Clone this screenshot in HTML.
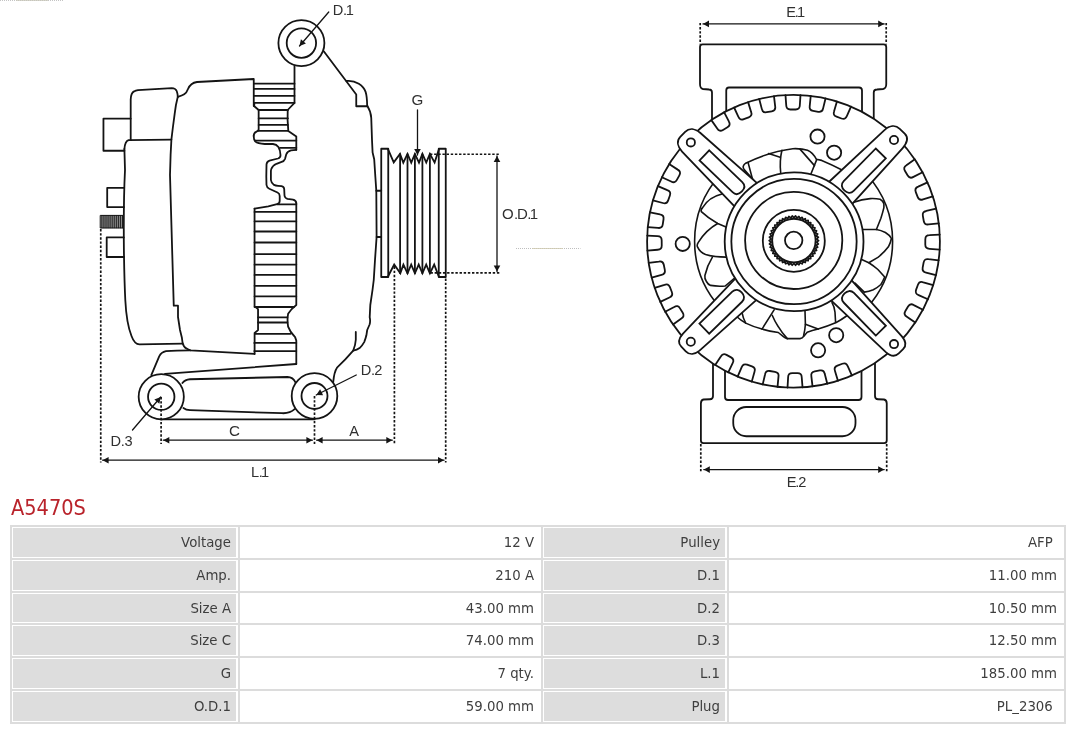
<!DOCTYPE html>
<html lang="en">
<head>
<meta charset="utf-8">
<title>A5470S</title>
<style>
html,body{margin:0;padding:0;background:#fff;}
body{width:1080px;height:729px;position:relative;overflow:hidden;font-family:"DejaVu Sans","Liberation Sans",sans-serif;}
#drawing{position:absolute;left:0;top:0;width:1080px;height:500px;will-change:transform;}
#drawing text{font-family:"Liberation Sans","DejaVu Sans",sans-serif;}
h1{position:absolute;left:11px;top:495px;margin:0;font-weight:normal;font-family:"DejaVu Sans","Liberation Sans",sans-serif;font-size:20.5px;line-height:26px;color:#b9232b;white-space:nowrap;transform:scaleX(0.945);transform-origin:0 0;}
#tbl{position:absolute;left:10px;top:525px;width:1054px;height:199px;border-collapse:collapse;table-layout:fixed;border-spacing:0;margin:0;padding:0;will-change:transform;font-size:13.3px;color:#3e3e3e;}
#tbl th,#tbl td{border:2px solid #dcdcdc;box-sizing:border-box;margin:0;padding:0 7px 0 0;text-align:right;vertical-align:middle;font-weight:normal;white-space:nowrap;line-height:16px;background:#fff;}
#tbl tr.r3 th,#tbl tr.r3 td{padding-top:2px;}
#tbl th{background:#dddddd;padding-right:7px;box-shadow:inset 1px 1px 0 #fff,inset -2px -1px 0 #fff;}
</style>
</head>
<body>
<svg id="drawing" role="img" aria-label="Alternator A5470S dimension drawing" width="1080" height="500" viewBox="0 0 1080 500" stroke-linecap="round" stroke-linejoin="round">
<path d="M130.7,118.6 H103.45 V150.75 H124.4" fill="none" stroke="#141414" stroke-width="1.8" />
<path d="M130.7,140 V99.5 Q130.9,93.2 134,91.4 Q135.6,90.4 138,90.1 L171.8,88.2 Q175.5,88.3 176.7,91 Q177.6,93.5 177.8,96.8" fill="none" stroke="#141414" stroke-width="1.8" />
<path d="M124.4,149 Q125,141.2 128.6,140.2 L171.4,139.6" fill="none" stroke="#141414" stroke-width="1.8" />
<path d="M124.4,149 L125,170 C124,190 123.7,230 123.9,250 C124.2,270 124.8,290 125.3,300 C126.2,318 128.3,328 131.5,336 Q134.5,344.3 139.5,344.4 L182.6,343.6" fill="none" stroke="#141414" stroke-width="1.8" />
<path d="M177.8,96.8 C176.4,102 175,111 174.7,113.6 L172.8,128 L171.4,139.6 L170.6,155 L170,175 L173.75,305.7 H178 L178,317 L180,330 L181.9,337.8 L182.6,343 Q183.6,347.2 186.6,348.6 Q188.5,349.8 190.4,350.3 L254.5,353.8" fill="none" stroke="#141414" stroke-width="1.8" />
<path d="M177.8,96.8 C183,95.3 186.3,94 188,89 Q190.5,83 197,82 L253.75,79 V106" fill="none" stroke="#141414" stroke-width="1.8" />
<path d="M294.5,65 V102.9 L287.7,110" fill="none" stroke="#141414" stroke-width="1.8" />
<line x1="254.3" y1="83.7" x2="294.5" y2="83.7" stroke="#141414" stroke-width="1.8" />
<line x1="254.3" y1="88.9" x2="294.5" y2="88.9" stroke="#141414" stroke-width="1.8" />
<line x1="254.3" y1="95.8" x2="294.5" y2="95.8" stroke="#141414" stroke-width="1.8" />
<line x1="254.3" y1="102.9" x2="294.5" y2="102.9" stroke="#141414" stroke-width="1.8" />
<path d="M254.3,102.9 V106.2 L258.65,110 V129.5 Q258.3,131 256.5,131.6 Q253.9,132.7 253.7,135.8" fill="none" stroke="#141414" stroke-width="1.8" />
<path d="M287.7,110 Q287.2,120 288.3,130.9 L296.3,136.4 V149.8" fill="none" stroke="#141414" stroke-width="1.8" />
<line x1="258.65" y1="110" x2="287.9" y2="110" stroke="#141414" stroke-width="1.8" />
<line x1="258.65" y1="118.3" x2="287.9" y2="118.3" stroke="#141414" stroke-width="1.8" />
<line x1="258.65" y1="124.9" x2="287.9" y2="124.9" stroke="#141414" stroke-width="1.8" />
<line x1="258.65" y1="130.9" x2="287.9" y2="130.9" stroke="#141414" stroke-width="1.8" />
<line x1="254.9" y1="140.7" x2="296.3" y2="140.7" stroke="#141414" stroke-width="1.8" />
<line x1="280" y1="147.8" x2="296.3" y2="147.8" stroke="#141414" stroke-width="1.8" />
<path d="M253.7,135.8 Q253.6,139.5 255.5,141.6 Q257.5,143.4 264.8,144 L273,144 Q276.5,144.4 278.4,147 Q280.3,150 280.5,155 Q280.6,157.6 278,158.5 L269.5,160.6 Q266.7,161.5 266.5,164.5 L266.3,176.6 L266.5,185 Q266.8,187.6 269.3,188.7 L277.5,192.5 Q279.7,193.6 279.7,196 L279.7,201 Q279.6,203.6 277,204.2 L268.3,206.3 L254.55,208.6" fill="none" stroke="#141414" stroke-width="1.8" />
<path d="M296.3,149.8 L291,150.3 Q287.3,151.3 286.2,154.5 L285,159 Q284.3,161.2 281,162.2 L276.5,163.8 Q272.5,165.6 271.3,169 Q270.8,170.5 270.9,172 L270.9,180 Q271.3,183.3 274,184.9 Q275.5,185.6 278,185.8 L281.5,186.1 Q284,186.6 284.2,189 L284.5,195.5 Q284.8,198 287.5,198.9 L293,199.7 Q296,200.4 296.3,203" fill="none" stroke="#141414" stroke-width="1.8" />
<path d="M254.55,208.6 V306.2 L258.05,309.1 V330.1 L254.6,333 V354" fill="none" stroke="#141414" stroke-width="1.8" />
<path d="M296.3,203 V305 Q291.5,308.5 288.1,313.8 Q287,319.5 288.1,326.6 Q290,332 295.1,337.1 L296.3,340.6 V364" fill="none" stroke="#141414" stroke-width="1.8" />
<line x1="277.6" y1="204.4" x2="296.3" y2="204.4" stroke="#141414" stroke-width="1.8" />
<line x1="254.55" y1="211.9" x2="296.3" y2="211.9" stroke="#141414" stroke-width="1.8" />
<line x1="254.55" y1="221.3" x2="296.3" y2="221.3" stroke="#141414" stroke-width="1.8" />
<line x1="254.55" y1="231.5" x2="296.3" y2="231.5" stroke="#141414" stroke-width="1.8" />
<line x1="254.55" y1="242.5" x2="296.3" y2="242.5" stroke="#141414" stroke-width="1.8" />
<line x1="254.55" y1="254.2" x2="296.3" y2="254.2" stroke="#141414" stroke-width="1.8" />
<line x1="254.55" y1="264.7" x2="296.3" y2="264.7" stroke="#141414" stroke-width="1.8" />
<line x1="254.55" y1="274.9" x2="296.3" y2="274.9" stroke="#141414" stroke-width="1.8" />
<line x1="254.55" y1="285.8" x2="296.3" y2="285.8" stroke="#141414" stroke-width="1.8" />
<line x1="254.55" y1="296.3" x2="296.3" y2="296.3" stroke="#141414" stroke-width="1.8" />
<line x1="254.55" y1="307" x2="294" y2="307" stroke="#141414" stroke-width="1.8" />
<line x1="258.05" y1="317.3" x2="287.4" y2="317.3" stroke="#141414" stroke-width="1.8" />
<line x1="258.05" y1="322.5" x2="287.4" y2="322.5" stroke="#141414" stroke-width="1.8" />
<line x1="254.9" y1="333.8" x2="290.5" y2="333.8" stroke="#141414" stroke-width="1.8" />
<line x1="254.3" y1="342.9" x2="296.3" y2="342.9" stroke="#141414" stroke-width="1.8" />
<line x1="254.3" y1="351.1" x2="296.3" y2="351.1" stroke="#141414" stroke-width="1.8" />
<path d="M151.3,375.2 L159.2,356.3 Q161.3,352.2 166,351.2 Q176,350.3 190.4,350.3" fill="none" stroke="#141414" stroke-width="1.8" />
<path d="M165,373.9 L296.3,364" fill="none" stroke="#141414" stroke-width="1.8" />
<line x1="161.25" y1="419.4" x2="314.5" y2="419.4" stroke="#141414" stroke-width="1.8" />
<path d="M182.4,383 Q185,379.6 190,379.25 L287.5,377 Q293,377 295.6,382.6" fill="none" stroke="#141414" stroke-width="1.8" />
<path d="M183.4,408 Q186,410 190,410.2 L282,413.2 Q290,413.6 294.6,409.2" fill="none" stroke="#141414" stroke-width="1.8" />
<circle cx="161.25" cy="396.75" r="22.6" fill="#fff" stroke="#141414" stroke-width="1.8"/>
<circle cx="161.25" cy="396.75" r="13.2" fill="none" stroke="#141414" stroke-width="1.8"/>
<circle cx="314.5" cy="396" r="22.8" fill="#fff" stroke="#141414" stroke-width="1.8"/>
<circle cx="314.5" cy="396" r="13" fill="none" stroke="#141414" stroke-width="1.8"/>
<circle cx="301.4" cy="43.1" r="23.0" fill="#fff" stroke="#141414" stroke-width="1.8"/>
<circle cx="301.4" cy="43.1" r="14.7" fill="none" stroke="#141414" stroke-width="1.8"/>
<path d="M323.75,51.25 L356.25,94.5 V106.25 H367.5" fill="none" stroke="#141414" stroke-width="1.8" />
<path d="M346.4,81 C356,80 363.5,86 365.6,91.9 C366.8,95.5 367.1,100 367.2,106.3" fill="none" stroke="#141414" stroke-width="1.8" />
<path d="M367.5,106.25 C370,110 371,114 371.25,118 L372,140 L372.6,152.5 L374.2,159.2 L375.4,177.5 L376.3,190.75 L376.6,237 L375,260 L373.75,280 L372.5,290 L370.3,305 L369.7,317.2 Q370.6,321 369.6,324.5 L367.2,330 L366.4,335.3 Q365.5,339 364.2,342.1 Q362,346 359.6,348.1 Q357,350 353.2,350.6 C349,355.5 343,362 337,367.7 C335,370.5 333.8,376 333.2,382.1" fill="none" stroke="#141414" stroke-width="1.8" stroke-linejoin="round"/>
<path d="M355.8,332 L355.8,339.8 Q355.5,345 353.2,350.6" fill="none" stroke="#141414" stroke-width="1.8" />
<line x1="376.3" y1="190.75" x2="381.25" y2="190.75" stroke="#141414" stroke-width="1.8" />
<line x1="376.6" y1="237" x2="381.25" y2="237" stroke="#141414" stroke-width="1.8" />
<rect x="381.25" y="148.75" width="7" height="128.25" fill="none" stroke="#141414" stroke-width="1.8"/>
<rect x="438.75" y="148.75" width="7" height="128.25" fill="none" stroke="#141414" stroke-width="1.8"/>
<path d="M388.1,149.4 L393.75,162.4 L400,153.9 L403.3,162.6 L407.5,153.9 L411.25,162.6 L414.9,153.9 L419,162.6 L422.4,153.9 L426.25,162.6 L429.9,153.9 L434.6,162.6 L438.9,149.4" fill="none" stroke="#141414" stroke-width="1.8" stroke-linejoin="miter"/>
<path d="M388.25,276 L394.2,264.6 L400.3,273.3 L403.4,264.6 L407.5,273.3 L411.2,264.6 L414.9,273.3 L418.7,264.6 L422.4,273.3 L426.2,264.6 L429.9,273.3 L434.2,264.6 L438.6,276" fill="none" stroke="#141414" stroke-width="1.8" stroke-linejoin="miter"/>
<line x1="400.1" y1="154.2" x2="400.1" y2="273.2" stroke="#141414" stroke-width="1.8" />
<line x1="407.5" y1="154.2" x2="407.5" y2="273.2" stroke="#141414" stroke-width="1.8" />
<line x1="414.9" y1="154.2" x2="414.9" y2="273.2" stroke="#141414" stroke-width="1.8" />
<line x1="422.4" y1="154.2" x2="422.4" y2="273.2" stroke="#141414" stroke-width="1.8" />
<line x1="429.9" y1="154.2" x2="429.9" y2="273.2" stroke="#141414" stroke-width="1.8" />
<path d="M124.2,187.8 H107.2 V207.1 H124" fill="none" stroke="#141414" stroke-width="1.8" />
<path d="M123.8,237.4 H106.7 V257 H124" fill="none" stroke="#141414" stroke-width="1.8" />
<rect x="100.6" y="215.4" width="22.8" height="12.6" fill="#9a9a9a" stroke="#141414" stroke-width="1"/>
<line x1="101.90" y1="215.6" x2="101.90" y2="227.8" stroke="#111" stroke-width="1.0"/>
<line x1="103.95" y1="215.6" x2="103.95" y2="227.8" stroke="#111" stroke-width="1.0"/>
<line x1="106.00" y1="215.6" x2="106.00" y2="227.8" stroke="#111" stroke-width="1.0"/>
<line x1="108.05" y1="215.6" x2="108.05" y2="227.8" stroke="#111" stroke-width="1.0"/>
<line x1="110.10" y1="215.6" x2="110.10" y2="227.8" stroke="#111" stroke-width="1.0"/>
<line x1="112.15" y1="215.6" x2="112.15" y2="227.8" stroke="#111" stroke-width="1.0"/>
<line x1="114.20" y1="215.6" x2="114.20" y2="227.8" stroke="#111" stroke-width="1.0"/>
<line x1="116.25" y1="215.6" x2="116.25" y2="227.8" stroke="#111" stroke-width="1.0"/>
<line x1="118.30" y1="215.6" x2="118.30" y2="227.8" stroke="#111" stroke-width="1.0"/>
<line x1="120.35" y1="215.6" x2="120.35" y2="227.8" stroke="#111" stroke-width="1.0"/>
<line x1="122.40" y1="215.6" x2="122.40" y2="227.8" stroke="#111" stroke-width="1.0"/>
<line x1="100.75" y1="229" x2="100.75" y2="462.5" stroke="#141414" stroke-width="1.7" stroke-dasharray="2.4 1.75" stroke-linecap="butt"/>
<line x1="161.1" y1="397" x2="161.1" y2="444" stroke="#141414" stroke-width="1.7" stroke-dasharray="2.4 1.75" stroke-linecap="butt"/>
<line x1="314.5" y1="396" x2="314.5" y2="445" stroke="#141414" stroke-width="1.7" stroke-dasharray="2.4 1.75" stroke-linecap="butt"/>
<line x1="394.4" y1="266.5" x2="394.4" y2="445" stroke="#141414" stroke-width="1.7" stroke-dasharray="2.4 1.75" stroke-linecap="butt"/>
<line x1="445.7" y1="278.5" x2="445.7" y2="462.5" stroke="#141414" stroke-width="1.7" stroke-dasharray="2.4 1.75" stroke-linecap="butt"/>
<line x1="430" y1="154.25" x2="499" y2="154.25" stroke="#141414" stroke-width="1.7" stroke-dasharray="2.4 1.75" stroke-linecap="butt"/>
<line x1="430.5" y1="272.9" x2="501" y2="272.9" stroke="#141414" stroke-width="1.7" stroke-dasharray="2.4 1.75" stroke-linecap="butt"/>
<line x1="163.3" y1="440.2" x2="312.4" y2="440.2" stroke="#141414" stroke-width="1.3" />
<polygon points="312.40,440.20 306.40,443.50 306.40,436.90" fill="#141414"/>
<polygon points="163.30,440.20 169.30,436.90 169.30,443.50" fill="#141414"/>
<line x1="316.6" y1="440.2" x2="392.3" y2="440.2" stroke="#141414" stroke-width="1.3" />
<polygon points="392.30,440.20 386.30,443.50 386.30,436.90" fill="#141414"/>
<polygon points="316.60,440.20 322.60,436.90 322.60,443.50" fill="#141414"/>
<line x1="102.6" y1="460.2" x2="444" y2="460.2" stroke="#141414" stroke-width="1.3" />
<polygon points="444.00,460.20 438.00,463.50 438.00,456.90" fill="#141414"/>
<polygon points="102.60,460.20 108.60,456.90 108.60,463.50" fill="#141414"/>
<line x1="497" y1="156" x2="497" y2="271.5" stroke="#141414" stroke-width="1.3" />
<polygon points="497.00,271.50 493.70,265.50 500.30,265.50" fill="#141414"/>
<polygon points="497.00,156.00 500.30,162.00 493.70,162.00" fill="#141414"/>
<line x1="417.5" y1="110" x2="417.5" y2="155" stroke="#141414" stroke-width="1.3" />
<polygon points="417.50,155.00 414.20,149.00 420.80,149.00" fill="#141414"/>
<line x1="328.75" y1="12" x2="299.5" y2="46" stroke="#141414" stroke-width="1.3" />
<polygon points="299.50,46.00 300.91,39.30 305.91,43.60" fill="#141414"/>
<line x1="356.25" y1="375" x2="316.25" y2="395" stroke="#141414" stroke-width="1.3" />
<polygon points="316.25,395.00 320.14,389.37 323.09,395.27" fill="#141414"/>
<line x1="132.5" y1="430" x2="160.75" y2="397" stroke="#141414" stroke-width="1.3" />
<polygon points="160.75,397.00 159.35,403.70 154.34,399.41" fill="#141414"/>
<text x="332.70 342.90 345.70" y="15.0" font-size="14.6" fill="#303030" >D.1</text>
<text x="411.60" y="104.5" font-size="15.2" fill="#303030" >G</text>
<text x="502.00 514.00 517.10 527.30 529.80" y="218.7" font-size="15" fill="#303030" >O.D.1</text>
<text x="360.70 370.90 374.30" y="374.7" font-size="14.6" fill="#303030" >D.2</text>
<text x="110.50 120.70 124.45" y="446.4" font-size="14.6" fill="#303030" >D.3</text>
<text x="228.90" y="435.7" font-size="15.2" fill="#303030" >C</text>
<text x="349.20" y="435.5" font-size="14.6" fill="#303030" >A</text>
<text x="251.00 258.70 261.10" y="477.0" font-size="14.6" fill="#303030" >L.1</text>
<path d="M712,121 V92.5 Q712,89.5 709,89.5 L703,89 Q700,88.5 700,84 V47 Q700,44.4 702.6,44.4 H883.6 Q886.25,44.4 886.25,47 V84 Q886.25,88.5 883,89 L877,89.5 Q873.75,89.5 873.75,92.5 V120" fill="none" stroke="#141414" stroke-width="1.8" />
<path d="M726.25,112 V90.5 Q726.25,87.5 729,87.5 H859 Q862,87.5 862,90.5 V112" fill="none" stroke="#141414" stroke-width="1.8" />
<path d="M713,362 V396 Q713,399.25 710,399.25 L703.5,399.5 Q700.9,400 700.9,403.5 V440.6 Q700.9,443.2 703.5,443.2 H884.1 Q886.75,443.2 886.75,440.6 V403.5 Q886.75,400 884,399.5 L878,399.25 Q875,399.25 875,396 V362" fill="none" stroke="#141414" stroke-width="1.8" />
<path d="M725,370 V397 Q725,400 728,400 H858.5 Q861.5,400 861.5,397 V370" fill="none" stroke="#141414" stroke-width="1.8" />
<rect x="733.25" y="407" width="122.25" height="29.25" rx="13" fill="none" stroke="#141414" stroke-width="1.8"/>
<circle cx="793.5" cy="241.3" r="146.4" fill="#fff" stroke="#141414" stroke-width="1.8"/>
<path d="M711.35,120.13 L717.23,128.49 Q719.41,132.09 723.00,129.91 L727.45,127.22 Q731.04,125.04 728.86,121.45 L724.18,112.36" fill="none" stroke="#141414" stroke-width="1.8" />
<path d="M734.10,107.50 L738.41,116.77 Q739.92,120.69 743.84,119.19 L748.69,117.32 Q752.62,115.82 751.11,111.90 L748.11,102.12" fill="none" stroke="#141414" stroke-width="1.8" />
<path d="M759.23,98.97 L761.80,108.87 Q762.57,113.00 766.70,112.23 L771.81,111.27 Q775.94,110.50 775.17,106.37 L773.98,96.22" fill="none" stroke="#141414" stroke-width="1.8" />
<path d="M785.49,95.13 L786.23,105.32 Q786.24,109.52 790.44,109.51 L795.64,109.49 Q799.84,109.48 799.83,105.28 L800.49,95.07" fill="none" stroke="#141414" stroke-width="1.8" />
<path d="M810.74,95.93 L809.71,106.10 Q809.00,110.24 813.14,110.95 L818.27,111.82 Q822.41,112.53 823.12,108.39 L825.53,98.45" fill="none" stroke="#141414" stroke-width="1.8" />
<path d="M836.94,101.50 L834.08,111.32 Q832.63,115.26 836.57,116.71 L841.45,118.50 Q845.39,119.95 846.84,116.01 L851.02,106.68" fill="none" stroke="#141414" stroke-width="1.8" />
<path d="M914.81,159.36 L906.44,165.23 Q902.84,167.40 905.01,170.99 L907.70,175.45 Q909.87,179.04 913.46,176.87 L922.56,172.20" fill="none" stroke="#141414" stroke-width="1.8" />
<path d="M927.51,182.37 L918.22,186.65 Q914.30,188.14 915.79,192.07 L917.63,196.93 Q919.12,200.85 923.05,199.36 L932.83,196.39" fill="none" stroke="#141414" stroke-width="1.8" />
<path d="M936.18,208.53 L926.25,210.99 Q922.12,211.72 922.85,215.85 L923.75,220.97 Q924.48,225.11 928.61,224.38 L938.78,223.30" fill="none" stroke="#141414" stroke-width="1.8" />
<path d="M939.74,234.57 L929.53,235.21 Q925.33,235.19 925.31,239.39 L925.28,244.59 Q925.26,248.79 929.46,248.81 L939.66,249.57" fill="none" stroke="#141414" stroke-width="1.8" />
<path d="M938.65,260.32 L928.49,259.16 Q924.36,258.40 923.60,262.54 L922.67,267.65 Q921.91,271.78 926.04,272.54 L935.94,275.07" fill="none" stroke="#141414" stroke-width="1.8" />
<path d="M933.14,285.23 L923.34,282.33 Q919.40,280.87 917.94,284.80 L916.13,289.68 Q914.66,293.62 918.60,295.08 L927.92,299.29" fill="none" stroke="#141414" stroke-width="1.8" />
<path d="M922.92,309.72 L913.80,305.10 Q910.19,302.95 908.04,306.55 L905.38,311.02 Q903.23,314.63 906.84,316.78 L915.24,322.60" fill="none" stroke="#141414" stroke-width="1.8" />
<path d="M728.26,372.35 L732.66,363.12 Q734.72,359.46 731.06,357.40 L726.53,354.85 Q722.87,352.79 720.81,356.45 L715.20,364.99" fill="none" stroke="#141414" stroke-width="1.8" />
<path d="M751.77,381.62 L754.51,371.77 Q755.91,367.81 751.96,366.41 L747.05,364.67 Q743.09,363.27 741.69,367.23 L737.63,376.61" fill="none" stroke="#141414" stroke-width="1.8" />
<path d="M777.53,386.82 L778.47,376.64 Q779.14,372.49 774.99,371.82 L769.86,370.99 Q765.72,370.32 765.04,374.46 L762.72,384.42" fill="none" stroke="#141414" stroke-width="1.8" />
<path d="M802.53,387.41 L801.72,377.22 Q801.68,373.02 797.48,373.07 L792.28,373.12 Q788.08,373.16 788.12,377.36 L787.53,387.57" fill="none" stroke="#141414" stroke-width="1.8" />
<path d="M827.27,383.74 L824.74,373.84 Q823.98,369.71 819.85,370.47 L814.74,371.40 Q810.60,372.16 811.36,376.29 L812.52,386.45" fill="none" stroke="#141414" stroke-width="1.8" />
<path d="M851.96,375.51 L847.72,366.21 Q846.24,362.28 842.31,363.76 L837.44,365.59 Q833.51,367.07 834.99,371.00 L837.92,380.79" fill="none" stroke="#141414" stroke-width="1.8" />
<path d="M661.88,177.21 L671.15,181.53 Q674.83,183.56 676.86,179.88 L679.37,175.33 Q681.40,171.65 677.72,169.62 L669.13,164.08" fill="none" stroke="#141414" stroke-width="1.8" />
<path d="M652.97,200.30 L662.83,203.00 Q666.79,204.38 668.18,200.41 L669.89,195.50 Q671.27,191.53 667.30,190.15 L657.90,186.14" fill="none" stroke="#141414" stroke-width="1.8" />
<path d="M647.80,227.11 L657.99,227.92 Q662.14,228.54 662.76,224.39 L663.53,219.25 Q664.15,215.09 660.00,214.47 L650.01,212.27" fill="none" stroke="#141414" stroke-width="1.8" />
<path d="M647.40,250.59 L657.59,249.76 Q661.79,249.71 661.74,245.51 L661.68,240.31 Q661.63,236.11 657.43,236.16 L647.22,235.59" fill="none" stroke="#141414" stroke-width="1.8" />
<path d="M651.67,277.55 L661.53,274.85 Q665.64,274.02 664.81,269.90 L663.79,264.80 Q662.96,260.69 658.84,261.52 L648.70,262.85" fill="none" stroke="#141414" stroke-width="1.8" />
<path d="M660.22,301.86 L669.46,297.47 Q673.36,295.93 671.82,292.02 L669.92,287.19 Q668.38,283.28 664.47,284.82 L654.72,287.90" fill="none" stroke="#141414" stroke-width="1.8" />
<path d="M673.05,324.51 L681.36,318.55 Q684.94,316.34 682.73,312.77 L680.00,308.35 Q677.79,304.77 674.22,306.98 L665.17,311.74" fill="none" stroke="#141414" stroke-width="1.8" />
<circle cx="817.5" cy="136.6" r="7.1" fill="none" stroke="#141414" stroke-width="1.8"/>
<circle cx="834.1" cy="152.7" r="7.1" fill="none" stroke="#141414" stroke-width="1.8"/>
<circle cx="682.7" cy="243.9" r="7.1" fill="none" stroke="#141414" stroke-width="1.8"/>
<circle cx="836.2" cy="335.2" r="7.1" fill="none" stroke="#141414" stroke-width="1.8"/>
<circle cx="818.1" cy="350.3" r="7.1" fill="none" stroke="#141414" stroke-width="1.8"/>
<path d="M867.17,175.06 A99.0,99.0 0 0 1 867.17,307.54" fill="none" stroke="#141414" stroke-width="1.6" />
<path d="M720.03,307.54 A99.0,99.0 0 0 1 720.03,175.06" fill="none" stroke="#141414" stroke-width="1.6" />
<path d="M753.5,180 L744.2,169.6 Q741.6,166 745.7,163.2 Q770,151.4 792.8,148.7 Q802,148.4 807.5,150.2 Q812.8,152.3 816.3,159.2 L821.7,160.4 Q832,164.6 843,170.5" fill="none" stroke="#141414" stroke-width="1.6" />
<path d="M748.1,162.6 L753,181" fill="none" stroke="#141414" stroke-width="1.6" />
<path d="M768.6,153.5 L780.1,157.2" fill="none" stroke="#141414" stroke-width="1.6" />
<path d="M781.9,150.3 Q779.4,161 780.7,173" fill="none" stroke="#141414" stroke-width="1.6" />
<path d="M800,149.1 L814.5,165.6" fill="none" stroke="#141414" stroke-width="1.6" />
<path d="M816.7,159.6 L810.7,174.5" fill="none" stroke="#141414" stroke-width="1.6" />
<path d="M722,194 Q709,197 702.6,207.6 Q700.4,210 701.3,211.6 Q708,218 717.7,223.5 L726,227" fill="none" stroke="#141414" stroke-width="1.6" />
<path d="M717.7,223.5 Q706,230 698.3,242.3 Q696.6,245 697.5,246.8 Q700,252.4 705.6,254.4 Q714,257 726,257.1" fill="none" stroke="#141414" stroke-width="1.6" />
<path d="M712.4,257.2 Q707,266 704.9,275.5 Q704.4,279 706.4,281.5 Q708,284.5 710.6,285.4 Q717,286.6 725.2,286 L734,278.5" fill="none" stroke="#141414" stroke-width="1.6" />
<path d="M853,202.5 Q862,199.2 870.3,198.6 Q876,198.4 880.1,199.3 Q883,200.8 883.9,203.9 L883.9,207.6 Q882.6,213 880.9,218.2 L876.4,229.5" fill="none" stroke="#141414" stroke-width="1.6" />
<path d="M861,229.5 L876.4,229.5 Q881,230.3 885.4,232.5 Q889.6,235 891.4,238.5 Q890.6,243 888.4,246.8 Q884,252.6 877.9,257.4 L868.8,262.7" fill="none" stroke="#141414" stroke-width="1.6" />
<path d="M860,258.8 L868.8,262.7 Q874,266 877.9,269.5 L884.7,277 Q883,281 880.9,284.5 Q877.5,287.6 873.3,289.8 Q869,291.6 864.3,292.1 L855,283" fill="none" stroke="#141414" stroke-width="1.6" />
<path d="M736,316 Q741,320.5 745.7,323.1 Q753,326.6 762,329.1 Q770,331.6 778.3,332.5 L783.1,336.4 Q785,338.2 787.3,338.6 L800,338.6 Q802.6,338.2 803.6,336.4 L807.2,332.2 Q812,330.7 818.1,329.1 Q828,326 836.2,322.5 Q841,320 846.5,316" fill="none" stroke="#141414" stroke-width="1.6" />
<path d="M742.1,312.8 Q743,318 745.7,323.1" fill="none" stroke="#141414" stroke-width="1.6" />
<path d="M774.1,309.8 L762,329.1" fill="none" stroke="#141414" stroke-width="1.6" />
<path d="M772.2,315.3 Q774.5,321 778.3,326.7 Q782,333 787.3,338.6" fill="none" stroke="#141414" stroke-width="1.6" />
<path d="M805,311 L805.4,324.3 Q805,330 803.6,335.8" fill="none" stroke="#141414" stroke-width="1.6" />
<path d="M805.4,324.3 L818.1,329.1" fill="none" stroke="#141414" stroke-width="1.6" />
<path d="M832,302.6 Q834.6,307 835,312.2 L835.6,322.5" fill="none" stroke="#141414" stroke-width="1.6" />
<path d="M762.46,187.84 L700.14,132.74 C695.10,128.45 689.32,127.54 685.14,131.89 L680.26,136.97 C676.29,141.09 677.56,146.68 682.05,151.55 L739.53,211.68" fill="#fff" stroke="#141414" stroke-width="1.8" />
<circle cx="690.85" cy="142.4" r="4.1" fill="none" stroke="#141414" stroke-width="1.8"/>
<path d="M709.25,150.39 L742.26,182.13 C745.39,185.14 744.55,188.70 741.88,191.48 C739.21,194.25 735.69,195.23 732.56,192.22 L699.55,160.48 Z" fill="none" stroke="#141414" stroke-width="1.8" stroke-linejoin="miter"/>
<path d="M847.04,209.62 L902.48,148.35 C907.08,143.11 908.52,137.46 904.71,133.70 L899.76,128.83 C895.34,124.48 889.33,125.64 884.16,130.32 L823.78,186.73" fill="#fff" stroke="#141414" stroke-width="1.8" />
<circle cx="894.0" cy="140.0" r="4.1" fill="none" stroke="#141414" stroke-width="1.8"/>
<path d="M885.80,158.31 L853.67,190.95 C850.63,194.04 847.08,193.16 844.34,190.46 C841.59,187.76 840.65,184.22 843.70,181.13 L875.82,148.49 Z" fill="none" stroke="#141414" stroke-width="1.8" stroke-linejoin="miter"/>
<path d="M740.68,272.81 L683.00,333.66 C678.99,338.11 677.79,343.08 681.30,346.70 L685.76,351.29 C689.67,355.33 694.94,354.54 699.50,350.67 L762.08,294.87" fill="#fff" stroke="#141414" stroke-width="1.8" />
<circle cx="690.8" cy="341.7" r="4.1" fill="none" stroke="#141414" stroke-width="1.8"/>
<path d="M699.42,323.59 L732.30,291.70 C735.41,288.68 738.94,289.64 741.62,292.41 C744.30,295.17 745.16,298.73 742.04,301.75 L709.17,333.64 Z" fill="none" stroke="#141414" stroke-width="1.8" stroke-linejoin="miter"/>
<path d="M825.24,294.95 L885.84,352.06 C890.18,355.93 895.11,356.99 898.78,353.41 L903.11,349.18 C906.65,345.73 905.64,340.85 901.87,336.42 L846.27,274.43" fill="#fff" stroke="#141414" stroke-width="1.8" />
<circle cx="894.0" cy="344.1" r="4.1" fill="none" stroke="#141414" stroke-width="1.8"/>
<path d="M875.86,335.53 L843.88,302.75 C840.85,299.64 841.80,296.11 844.56,293.42 C847.31,290.73 850.87,289.87 853.90,292.97 L885.88,325.76 Z" fill="none" stroke="#141414" stroke-width="1.8" stroke-linejoin="miter"/>
<circle cx="794.1" cy="241.7" r="69.4" fill="#fff" stroke="#141414" stroke-width="1.8"/>
<circle cx="794.0" cy="241.55" r="62.65" fill="none" stroke="#141414" stroke-width="1.8"/>
<circle cx="793.7" cy="240.4" r="48.6" fill="none" stroke="#141414" stroke-width="1.8"/>
<circle cx="793.8" cy="240.8" r="31.0" fill="none" stroke="#141414" stroke-width="1.8"/>
<polygon points="818.60,240.60 816.75,242.16 818.37,243.96 816.32,245.26 817.68,247.26 815.48,248.27 816.56,250.44 814.23,251.14 815.00,253.43 812.61,253.81 813.06,256.19 810.64,256.23 810.76,258.65 808.35,258.36 808.14,260.78 805.80,260.17 805.26,262.53 803.02,261.60 802.17,263.87 800.08,262.65 798.93,264.78 797.02,263.29 795.59,265.24 793.90,263.50 792.21,265.24 790.78,263.29 788.87,264.78 787.72,262.65 785.63,263.87 784.78,261.60 782.54,262.53 782.00,260.17 779.66,260.78 779.45,258.36 777.04,258.65 777.16,256.23 774.74,256.19 775.19,253.81 772.80,253.43 773.57,251.14 771.24,250.44 772.32,248.27 770.12,247.26 771.48,245.26 769.43,243.96 771.05,242.16 769.20,240.60 771.05,239.04 769.43,237.24 771.48,235.94 770.12,233.94 772.32,232.93 771.24,230.76 773.57,230.06 772.80,227.77 775.19,227.39 774.74,225.01 777.16,224.97 777.04,222.55 779.45,222.84 779.66,220.42 782.00,221.03 782.54,218.67 784.78,219.60 785.63,217.33 787.72,218.55 788.87,216.42 790.78,217.91 792.21,215.96 793.90,217.70 795.59,215.96 797.02,217.91 798.93,216.42 800.08,218.55 802.17,217.33 803.02,219.60 805.26,218.67 805.80,221.03 808.14,220.42 808.35,222.84 810.76,222.55 810.64,224.97 813.06,225.01 812.61,227.39 815.00,227.77 814.23,230.06 816.56,230.76 815.48,232.93 817.68,233.94 816.32,235.94 818.37,237.24 816.75,239.04" fill="none" stroke="#141414" stroke-width="1.7" stroke-linejoin="round"/>
<circle cx="793.9" cy="240.6" r="21.8" fill="none" stroke="#141414" stroke-width="2.0"/>
<circle cx="793.7" cy="240.4" r="8.7" fill="none" stroke="#141414" stroke-width="1.8"/>
<line x1="700.2" y1="22.9" x2="700.2" y2="44.4" stroke="#141414" stroke-width="1.7" stroke-dasharray="2.4 1.75" stroke-linecap="butt"/>
<line x1="886.2" y1="22.9" x2="886.2" y2="44.4" stroke="#141414" stroke-width="1.7" stroke-dasharray="2.4 1.75" stroke-linecap="butt"/>
<line x1="703" y1="23.9" x2="884.2" y2="23.9" stroke="#141414" stroke-width="1.3" />
<polygon points="884.20,23.90 878.20,27.20 878.20,20.60" fill="#141414"/>
<polygon points="703.00,23.90 709.00,20.60 709.00,27.20" fill="#141414"/>
<line x1="700.8" y1="444" x2="700.8" y2="472.8" stroke="#141414" stroke-width="1.7" stroke-dasharray="2.4 1.75" stroke-linecap="butt"/>
<line x1="886.7" y1="444" x2="886.7" y2="472.8" stroke="#141414" stroke-width="1.7" stroke-dasharray="2.4 1.75" stroke-linecap="butt"/>
<line x1="703.8" y1="469.6" x2="884.2" y2="469.6" stroke="#141414" stroke-width="1.3" />
<polygon points="884.20,469.60 878.20,472.90 878.20,466.30" fill="#141414"/>
<polygon points="703.80,469.60 709.80,466.30 709.80,472.90" fill="#141414"/>
<text x="786.30 794.70 796.90" y="17.0" font-size="14.6" fill="#303030" >E.1</text>
<text x="786.80 795.20 798.30" y="487.4" font-size="14.6" fill="#303030" >E.2</text>
<line x1="516" y1="248.5" x2="580.5" y2="248.5" stroke="#a8a8a8" stroke-width="1" stroke-dasharray="1 1" stroke-linecap="butt" opacity="0.75"/>
<line x1="532" y1="248.5" x2="563" y2="248.5" stroke="#cfcab0" stroke-width="1" stroke-linecap="butt" opacity="0.8"/>
<line x1="0" y1="0.4" x2="64" y2="0.4" stroke="#a8a8a8" stroke-width="1" stroke-dasharray="1 1" stroke-linecap="butt" opacity="0.75"/>
<line x1="16" y1="0.4" x2="48" y2="0.4" stroke="#c8c6b8" stroke-width="1" stroke-linecap="butt" opacity="0.8"/>
</svg>
<h1>A5470S</h1>
<table id="tbl">
<colgroup><col style="width:228px"><col style="width:303px"><col style="width:186px"><col style="width:337px"></colgroup>
<tbody>
<tr class="r1" style="height:33px"><th scope="row">Voltage</th><td>12 V</td><th scope="row">Pulley</th><td>AFP&nbsp;</td></tr>
<tr class="r2" style="height:33px"><th scope="row">Amp.</th><td>210 A</td><th scope="row">D.1</th><td>11.00 mm</td></tr>
<tr class="r3" style="height:32px"><th scope="row">Size A</th><td>43.00 mm</td><th scope="row">D.2</th><td>10.50 mm</td></tr>
<tr class="r4" style="height:33px"><th scope="row">Size C</th><td>74.00 mm</td><th scope="row">D.3</th><td>12.50 mm</td></tr>
<tr class="r5" style="height:33px"><th scope="row">G</th><td>7 qty.</td><th scope="row">L.1</th><td>185.00 mm</td></tr>
<tr class="r6" style="height:33px"><th scope="row">O.D.1</th><td>59.00 mm</td><th scope="row">Plug</th><td>PL_2306&nbsp;</td></tr>
</tbody>
</table>
</body>
</html>
